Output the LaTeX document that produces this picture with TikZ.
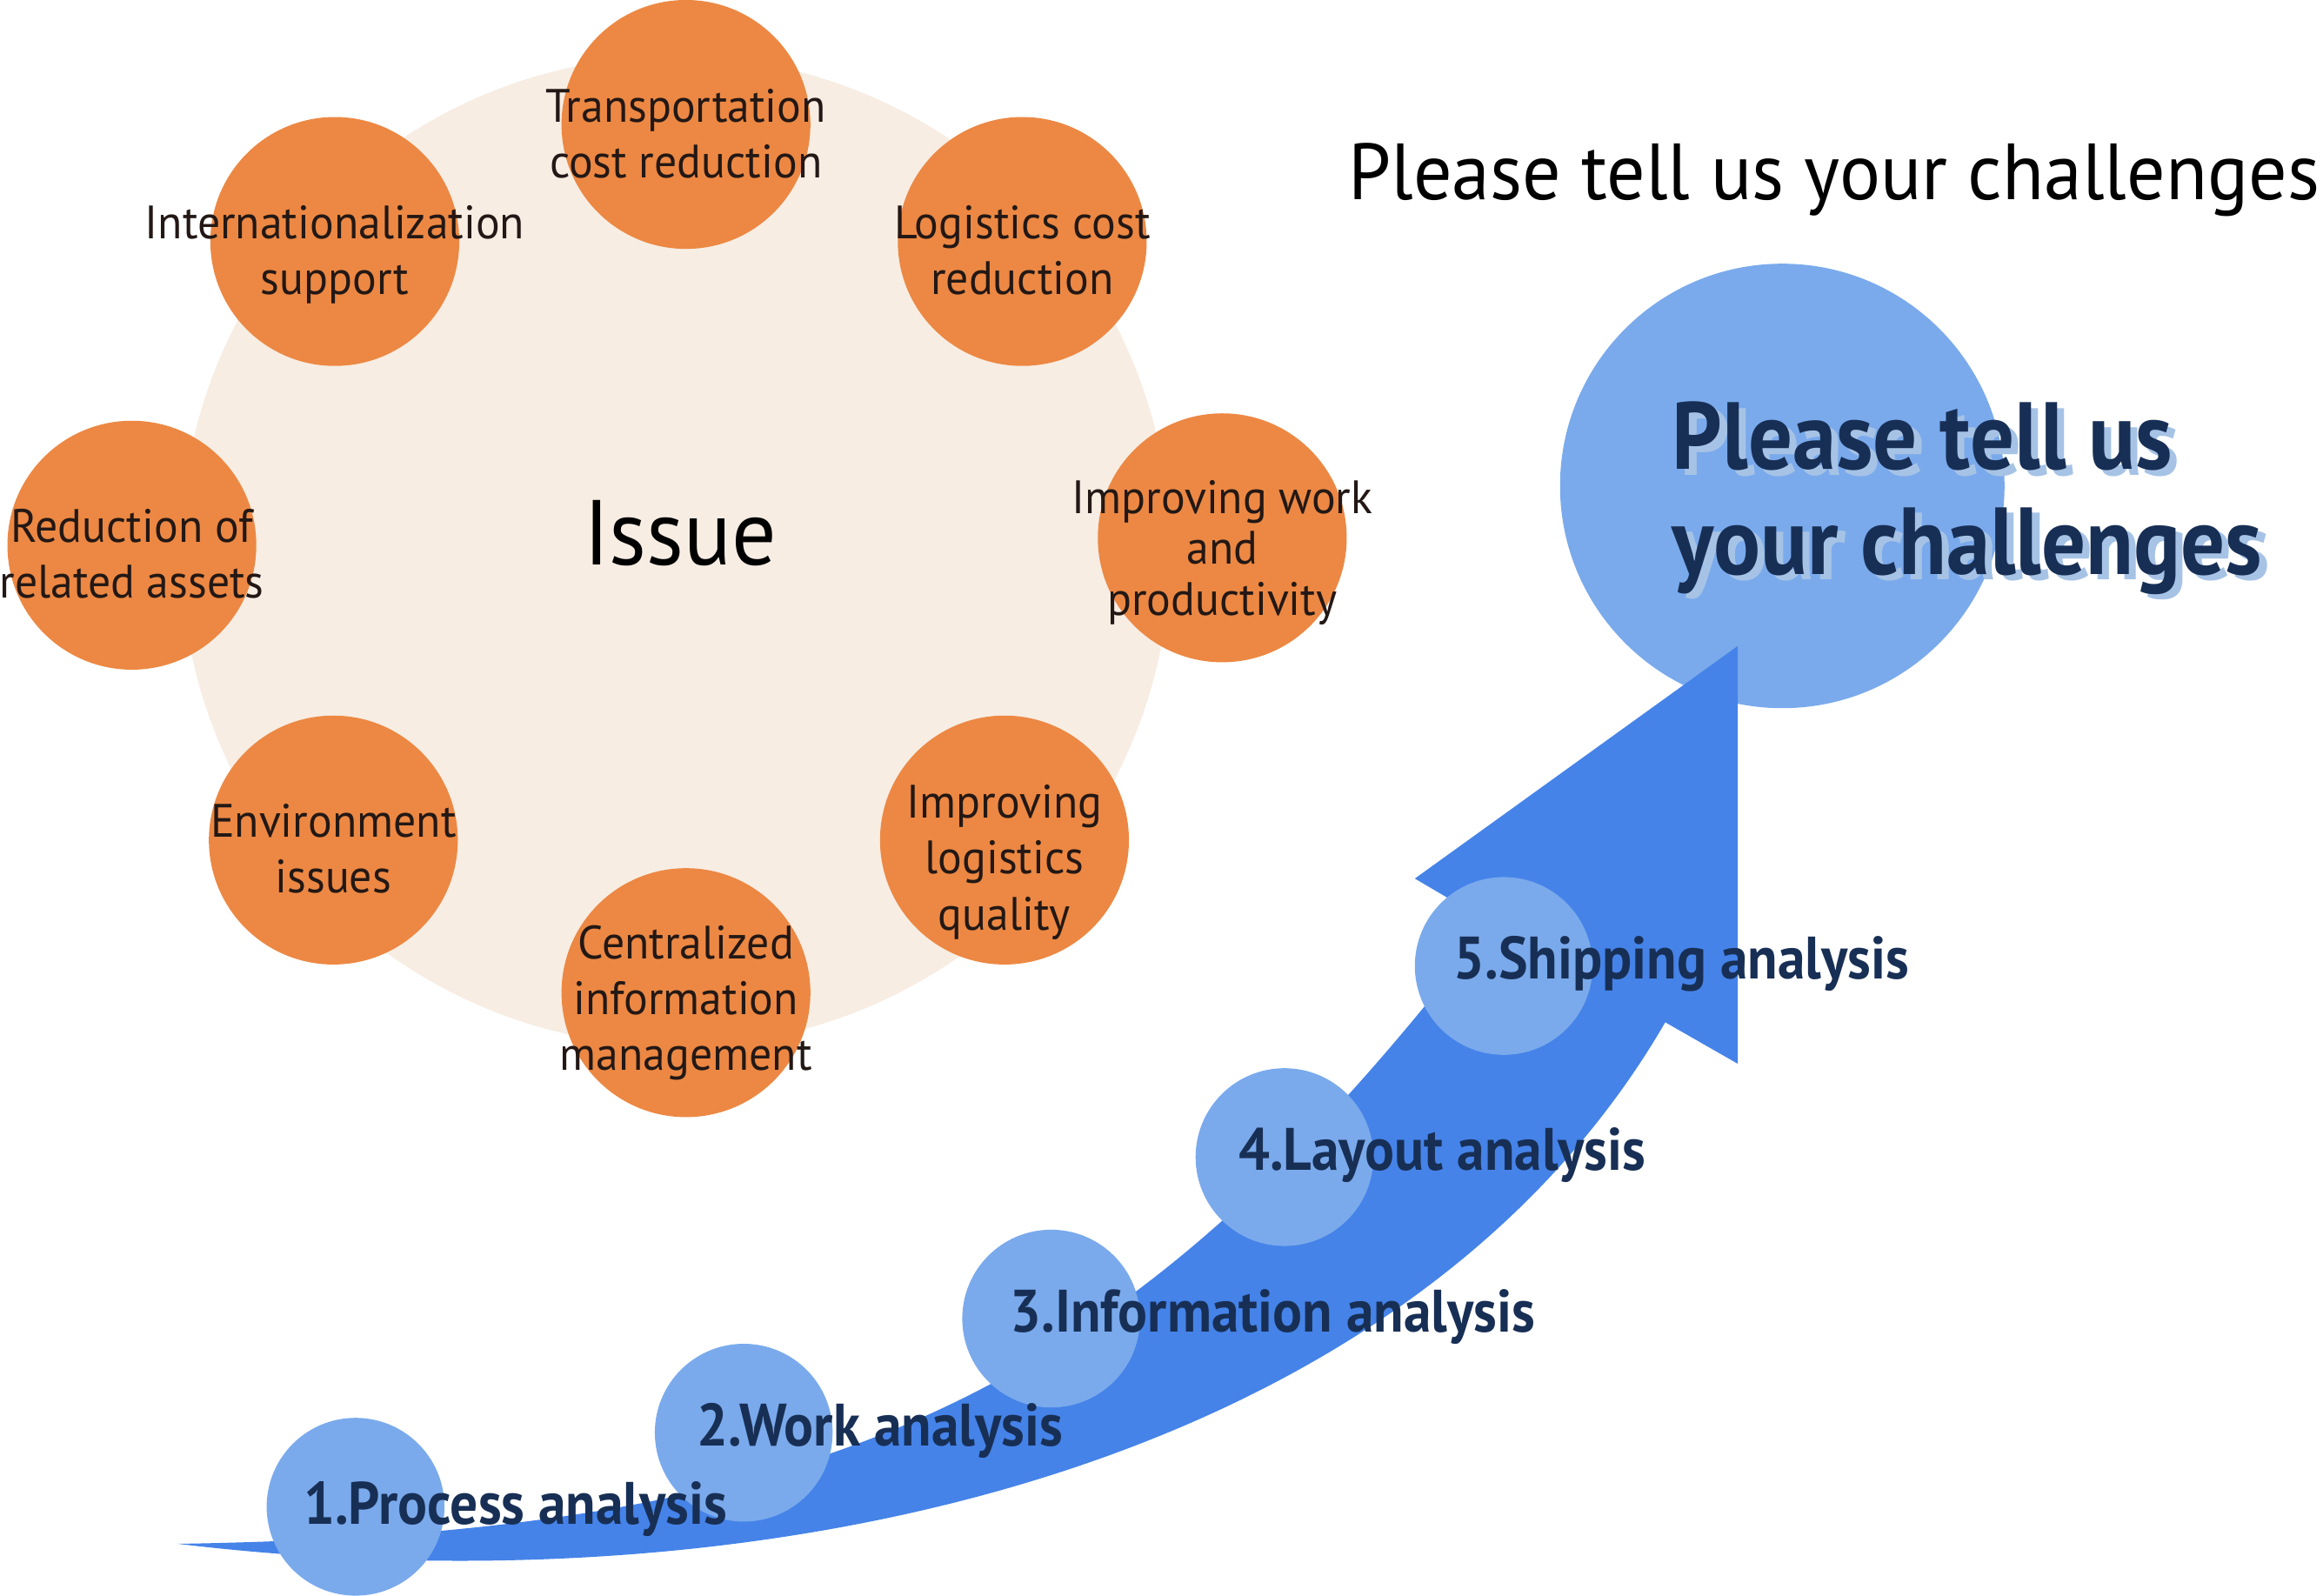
\documentclass[tikz,border=0pt]{standalone}
\usepackage{fontspec}
\setmainfont{PT Sans}[FakeStretch=0.96]
\newfontfamily\stepfont{PT Sans}[FakeStretch=0.92]

\definecolor{issuebg}{HTML}{F7EDE3}
\definecolor{issueorange}{HTML}{EC8843}
\definecolor{stepblue}{HTML}{7AAAEC}
\definecolor{arrowblue}{HTML}{4583E8}
\definecolor{navy}{HTML}{182F55}
\definecolor{shadowblue}{HTML}{A6C3E6}
\definecolor{inkblack}{HTML}{231815}

\tikzset{
  issue/.style={circle, fill=issueorange, minimum size=1.68cm, inner sep=0pt},
  issuetext/.style={align=center, text=inkblack, font=\fontsize{9}{10.7}\selectfont, yshift=-0.06cm},
  stepdot/.style={circle, fill=stepblue, minimum size=1.2cm, inner sep=0pt},
  steplabel/.style={anchor=base, text=navy, font=\stepfont\bfseries\fontsize{11.5}{13}\selectfont},
  callout/.style={anchor=base west, inner sep=0pt, text=navy, font=\stepfont\bfseries\fontsize{18.3}{20}\selectfont},
  calloutshadow/.style={callout, text=shadowblue},
}

\begin{document}
\begin{tikzpicture}
  \useasboundingbox (0,0) rectangle (15.68,10.77);

  % issue cloud
  \node[circle, fill=issuebg, minimum size=6.68cm, inner sep=0pt] (cloud) at (4.56,7.05) {};
  \node[anchor=base, font=\fontsize{17.7}{20}\selectfont] (issue) at (4.59,6.955) {Issue};

  \node[issue] (trans) at (4.63,9.93) {};
  \node[issue] (logi) at (6.90,9.14) {};
  \node[issue] (work) at (8.25,7.14) {};
  \node[issue] (qual) at (6.78,5.10) {};
  \node[issue] (info) at (4.63,4.07) {};
  \node[issue] (env) at (2.25,5.10) {};
  \node[issue] (assets) at (0.89,7.09) {};
  \node[issue] (intl) at (2.26,9.14) {};

  \node[issuetext] (trans-t) at (trans) {Transportation\\cost reduction};
  \node[issuetext] (logi-t) at (logi) {Logistics cost\\reduction};
  \node[issuetext, yshift=-0.04cm, font=\fontsize{9}{9.8}\selectfont] (work-t) at (work) {Improving work\\and\\productivity};
  \node[issuetext, yshift=-0.09cm] (qual-t) at (qual) {Improving\\logistics\\quality};
  \node[issuetext, yshift=-0.01cm] (info-t) at (info) {Centralized\\information\\management};
  \node[issuetext] (env-t) at (env) {Environment\\issues};
  \node[issuetext] (assets-t) at (assets) {Reduction of\\related assets};
  \node[issuetext, yshift=-0.03cm] (intl-t) at (intl) {Internationalization\\support};

  % goal
  \node[anchor=base, font=\fontsize{15.3}{18}\selectfont] (title) at (12.38,9.425) {Please tell us your challenges};
  \node[circle, fill=stepblue, minimum size=3cm, inner sep=0pt] (goal) at (12.03,7.49) {};
  \node[calloutshadow] (ask1s) at (11.33,7.56) {Please tell us};
  \node[calloutshadow] (ask2s) at (11.33,6.855) {your challenges};
  \node[callout] (ask1) at (11.28,7.60) {Please tell us};
  \node[callout] (ask2) at (11.28,6.895) {your challenges};

  % big arrow
  \fill[arrowblue] (1.20,0.35) .. controls (5.20,-0.13) and (9.50,0.87) .. (11.24,3.87)
    -- (11.73,3.59) -- (11.73,6.41) -- (9.55,4.84) -- (10.06,4.54)
    .. controls (7.60,1.32) and (5.60,0.42) .. (1.20,0.35) -- cycle;

  % steps
  \node[stepdot] (s1) at (2.40,0.60) {};
  \node[stepdot] (s2) at (5.02,1.10) {};
  \node[stepdot] (s3) at (7.095,1.87) {};
  \node[stepdot] (s4) at (8.67,2.96) {};
  \node[stepdot] (s5) at (10.15,4.25) {};

  \node[steplabel] (l1) at (3.48,0.48) {1.Process analysis};
  \node[steplabel] (l2) at (5.94,1.01) {2.Work analysis};
  \node[steplabel] (l3) at (8.59,1.78) {3.Information analysis};
  \node[steplabel] (l4) at (9.735,2.87) {4.Layout analysis};
  \node[steplabel] (l5) at (11.35,4.16) {5.Shipping analysis};
\end{tikzpicture}
\end{document}
